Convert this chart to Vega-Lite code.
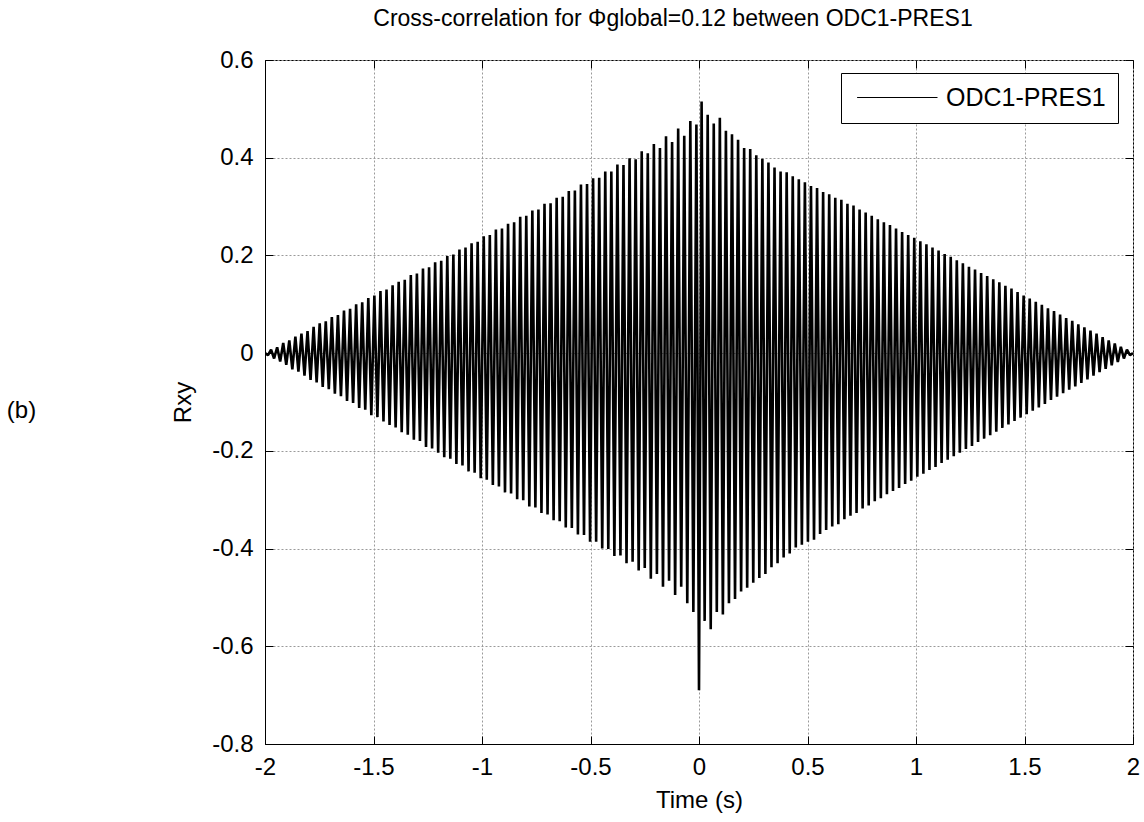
{
"$schema":"https://vega.github.io/schema/vega-lite/v6.json",
"width":868,"height":684,
"autosize":{"type":"none"},
"padding":{"left":265,"top":60,"right":11,"bottom":78},
"background":"white",
"title":{"text":"Cross-correlation for Φglobal=0.12 between ODC1-PRES1","font":"Liberation Sans","fontSize":23,"fontWeight":"normal","color":"black","anchor":"middle","frame":"group","baseline":"bottom","offset":14,"dy":20,"dx":-26},
"config":{
 "view":{"stroke":"black","strokeWidth":1},
 "axis":{"labelFont":"Liberation Sans","labelFontSize":24,"labelColor":"black","titleFont":"Liberation Sans","titleFontSize":24,"titleFontWeight":"normal","titleColor":"black","tickColor":"black","domainColor":"black","gridColor":"#9a9a9a","gridDash":[2,2],"gridWidth":1}
},
"datasets":{"s":[
{"t":-2,"r":0},{"t":-1.986,"r":-0.004},{"t":-1.972,"r":0.007},{"t":-1.958,"r":-0.011},{"t":-1.944,"r":0.012},{"t":-1.93,"r":-0.017},{"t":-1.916,"r":0.021},{"t":-1.902,"r":-0.024},{"t":-1.888,"r":0.026},{"t":-1.874,"r":-0.033},
{"t":-1.86,"r":0.034},{"t":-1.846,"r":-0.038},{"t":-1.832,"r":0.040},{"t":-1.818,"r":-0.046},{"t":-1.804,"r":0.045},{"t":-1.79,"r":-0.055},{"t":-1.776,"r":0.054},{"t":-1.762,"r":-0.060},{"t":-1.748,"r":0.061},{"t":-1.734,"r":-0.069},
{"t":-1.72,"r":0.065},{"t":-1.706,"r":-0.074},{"t":-1.692,"r":0.074},{"t":-1.678,"r":-0.083},{"t":-1.664,"r":0.078},{"t":-1.65,"r":-0.088},{"t":-1.636,"r":0.087},{"t":-1.622,"r":-0.098},{"t":-1.608,"r":0.091},{"t":-1.594,"r":-0.102},
{"t":-1.58,"r":0.100},{"t":-1.566,"r":-0.112},{"t":-1.552,"r":0.104},{"t":-1.538,"r":-0.116},{"t":-1.524,"r":0.113},{"t":-1.51,"r":-0.127},{"t":-1.496,"r":0.118},{"t":-1.482,"r":-0.131},{"t":-1.468,"r":0.127},{"t":-1.454,"r":-0.140},
{"t":-1.44,"r":0.130},{"t":-1.426,"r":-0.147},{"t":-1.412,"r":0.139},{"t":-1.398,"r":-0.152},{"t":-1.384,"r":0.146},{"t":-1.37,"r":-0.162},{"t":-1.356,"r":0.150},{"t":-1.342,"r":-0.167},{"t":-1.328,"r":0.160},{"t":-1.314,"r":-0.177},
{"t":-1.3,"r":0.163},{"t":-1.286,"r":-0.180},{"t":-1.272,"r":0.173},{"t":-1.258,"r":-0.192},{"t":-1.244,"r":0.176},{"t":-1.23,"r":-0.195},{"t":-1.216,"r":0.186},{"t":-1.202,"r":-0.204},{"t":-1.188,"r":0.189},{"t":-1.174,"r":-0.213},
{"t":-1.16,"r":0.199},{"t":-1.146,"r":-0.216},{"t":-1.132,"r":0.202},{"t":-1.118,"r":-0.227},{"t":-1.104,"r":0.212},{"t":-1.09,"r":-0.230},{"t":-1.076,"r":0.216},{"t":-1.062,"r":-0.242},{"t":-1.048,"r":0.225},{"t":-1.034,"r":-0.245},
{"t":-1.02,"r":0.228},{"t":-1.006,"r":-0.256},{"t":-0.992,"r":0.239},{"t":-0.978,"r":-0.259},{"t":-0.964,"r":0.242},{"t":-0.95,"r":-0.270},{"t":-0.936,"r":0.253},{"t":-0.922,"r":-0.273},{"t":-0.908,"r":0.255},{"t":-0.894,"r":-0.285},
{"t":-0.88,"r":0.265},{"t":-0.866,"r":-0.287},{"t":-0.852,"r":0.268},{"t":-0.838,"r":-0.299},{"t":-0.824,"r":0.279},{"t":-0.81,"r":-0.301},{"t":-0.796,"r":0.281},{"t":-0.782,"r":-0.314},{"t":-0.768,"r":0.292},{"t":-0.754,"r":-0.316},
{"t":-0.74,"r":0.294},{"t":-0.726,"r":-0.327},{"t":-0.712,"r":0.306},{"t":-0.698,"r":-0.330},{"t":-0.684,"r":0.307},{"t":-0.67,"r":-0.342},{"t":-0.656,"r":0.318},{"t":-0.642,"r":-0.344},{"t":-0.628,"r":0.320},{"t":-0.614,"r":-0.357},
{"t":-0.6,"r":0.332},{"t":-0.586,"r":-0.358},{"t":-0.572,"r":0.333},{"t":-0.558,"r":-0.371},{"t":-0.544,"r":0.345},{"t":-0.53,"r":-0.372},{"t":-0.516,"r":0.346},{"t":-0.502,"r":-0.386},{"t":-0.488,"r":0.358},{"t":-0.474,"r":-0.386},
{"t":-0.46,"r":0.359},{"t":-0.446,"r":-0.400},{"t":-0.432,"r":0.372},{"t":-0.418,"r":-0.401},{"t":-0.404,"r":0.372},{"t":-0.39,"r":-0.415},{"t":-0.376,"r":0.386},{"t":-0.362,"r":-0.414},{"t":-0.348,"r":0.385},{"t":-0.334,"r":-0.430},
{"t":-0.32,"r":0.399},{"t":-0.306,"r":-0.427},{"t":-0.292,"r":0.397},{"t":-0.278,"r":-0.445},{"t":-0.264,"r":0.413},{"t":-0.25,"r":-0.440},{"t":-0.236,"r":0.409},{"t":-0.222,"r":-0.462},{"t":-0.208,"r":0.428},{"t":-0.194,"r":-0.452},
{"t":-0.18,"r":0.420},{"t":-0.166,"r":-0.478},{"t":-0.152,"r":0.444},{"t":-0.138,"r":-0.466},{"t":-0.124,"r":0.432},{"t":-0.11,"r":-0.495},{"t":-0.096,"r":0.460},{"t":-0.082,"r":-0.478},{"t":-0.068,"r":0.445},{"t":-0.054,"r":-0.512},
{"t":-0.04,"r":0.475},{"t":-0.026,"r":-0.530},{"t":-0.012,"r":0.468},{"t":0,"r":-0.690},
{"t":0.012,"r":0.515},{"t":0.026,"r":-0.548},{"t":0.04,"r":0.488},{"t":0.054,"r":-0.565},{"t":0.068,"r":0.470},{"t":0.082,"r":-0.530},{"t":0.096,"r":0.482},{"t":0.11,"r":-0.535},{"t":0.124,"r":0.455},{"t":0.138,"r":-0.512},
{"t":0.152,"r":0.448},{"t":0.166,"r":-0.503},{"t":0.18,"r":0.437},{"t":0.194,"r":-0.488},{"t":0.208,"r":0.420},{"t":0.222,"r":-0.480},{"t":0.236,"r":0.418},{"t":0.25,"r":-0.470},{"t":0.264,"r":0.405},{"t":0.278,"r":-0.460},
{"t":0.292,"r":0.398},{"t":0.306,"r":-0.452},{"t":0.32,"r":0.390},{"t":0.334,"r":-0.438},{"t":0.348,"r":0.380},{"t":0.362,"r":-0.430},{"t":0.376,"r":0.372},{"t":0.39,"r":-0.418},{"t":0.404,"r":0.370},{"t":0.418,"r":-0.410},
{"t":0.432,"r":0.362},{"t":0.446,"r":-0.398},{"t":0.46,"r":0.356},{"t":0.474,"r":-0.392},{"t":0.488,"r":0.350},{"t":0.502,"r":-0.386},{"t":0.516,"r":0.342},{"t":0.53,"r":-0.382},{"t":0.544,"r":0.338},{"t":0.558,"r":-0.370},
{"t":0.572,"r":0.330},{"t":0.586,"r":-0.362},{"t":0.6,"r":0.325},{"t":0.614,"r":-0.355},{"t":0.628,"r":0.318},{"t":0.642,"r":-0.350},{"t":0.656,"r":0.314},{"t":0.67,"r":-0.340},{"t":0.684,"r":0.306},{"t":0.698,"r":-0.333},
{"t":0.712,"r":0.302},{"t":0.726,"r":-0.327},{"t":0.74,"r":0.294},{"t":0.754,"r":-0.318},{"t":0.768,"r":0.288},{"t":0.782,"r":-0.312},{"t":0.796,"r":0.281},{"t":0.81,"r":-0.303},{"t":0.824,"r":0.274},{"t":0.838,"r":-0.297},
{"t":0.852,"r":0.268},{"t":0.866,"r":-0.289},{"t":0.88,"r":0.262},{"t":0.894,"r":-0.282},{"t":0.908,"r":0.255},{"t":0.922,"r":-0.276},{"t":0.936,"r":0.248},{"t":0.95,"r":-0.268},{"t":0.964,"r":0.242},{"t":0.978,"r":-0.261},
{"t":0.992,"r":0.236},{"t":1.006,"r":-0.253},{"t":1.02,"r":0.229},{"t":1.034,"r":-0.247},{"t":1.048,"r":0.223},{"t":1.062,"r":-0.239},{"t":1.076,"r":0.216},{"t":1.09,"r":-0.233},{"t":1.104,"r":0.210},{"t":1.118,"r":-0.225},
{"t":1.132,"r":0.203},{"t":1.146,"r":-0.218},{"t":1.16,"r":0.197},{"t":1.174,"r":-0.211},{"t":1.188,"r":0.190},{"t":1.202,"r":-0.204},{"t":1.216,"r":0.184},{"t":1.23,"r":-0.196},{"t":1.244,"r":0.177},{"t":1.258,"r":-0.190},
{"t":1.272,"r":0.171},{"t":1.286,"r":-0.182},{"t":1.3,"r":0.164},{"t":1.314,"r":-0.175},{"t":1.328,"r":0.158},{"t":1.342,"r":-0.168},{"t":1.356,"r":0.151},{"t":1.37,"r":-0.161},{"t":1.384,"r":0.145},{"t":1.398,"r":-0.153},
{"t":1.412,"r":0.138},{"t":1.426,"r":-0.146},{"t":1.44,"r":0.132},{"t":1.454,"r":-0.139},{"t":1.468,"r":0.125},{"t":1.482,"r":-0.132},{"t":1.496,"r":0.118},{"t":1.51,"r":-0.125},{"t":1.524,"r":0.112},{"t":1.538,"r":-0.118},
{"t":1.552,"r":0.105},{"t":1.566,"r":-0.111},{"t":1.58,"r":0.099},{"t":1.594,"r":-0.104},{"t":1.608,"r":0.092},{"t":1.622,"r":-0.096},{"t":1.636,"r":0.086},{"t":1.65,"r":-0.089},{"t":1.664,"r":0.079},{"t":1.678,"r":-0.082},
{"t":1.692,"r":0.072},{"t":1.706,"r":-0.075},{"t":1.72,"r":0.066},{"t":1.734,"r":-0.068},{"t":1.748,"r":0.059},{"t":1.762,"r":-0.061},{"t":1.776,"r":0.053},{"t":1.79,"r":-0.054},{"t":1.804,"r":0.046},{"t":1.818,"r":-0.046},
{"t":1.832,"r":0.040},{"t":1.846,"r":-0.039},{"t":1.86,"r":0.033},{"t":1.874,"r":-0.032},{"t":1.888,"r":0.026},{"t":1.902,"r":-0.025},{"t":1.916,"r":0.020},{"t":1.93,"r":-0.018},{"t":1.944,"r":0.013},{"t":1.958,"r":-0.011},
{"t":1.972,"r":0.007},{"t":1.986,"r":-0.004},{"t":2,"r":0}
]},
"data":{"name":"s"},
"resolve":{"axis":{"x":"independent","y":"independent"}},
"layer":[
 {"mark":{"type":"line","strokeWidth":2.6,"strokeJoin":"bevel","clip":true},
  "encoding":{
   "x":{"field":"t","type":"quantitative","scale":{"domain":[-2,2],"nice":false,"zero":false},
        "axis":{"orient":"bottom","title":"Time (s)","values":[-2,-1.5,-1,-0.5,0,0.5,1,1.5,2],"labelExpr":"replace(format(datum.value,'~g'),'−','-')","tickSize":-8,"labelPadding":19,"labelFlush":false,"domain":true,"grid":true,"titleY":56,"titleBaseline":"middle"}},
   "y":{"field":"r","type":"quantitative","scale":{"domain":[-0.8,0.6],"nice":false,"zero":false},
        "axis":{"orient":"left","title":"Rxy","values":[-0.8,-0.6,-0.4,-0.2,0,0.2,0.4,0.6],"labelExpr":"replace(format(datum.value,'~g'),'−','-')","tickSize":-8,"labelPadding":20,"labelFlush":false,"domain":true,"grid":true,"titleX":-70,"titleBaseline":"bottom"}},
   "color":{"datum":"ODC1-PRES1","type":"nominal","scale":{"range":["black"]},
        "legend":{"title":null,"orient":"none","legendX":576,"legendY":13,"strokeColor":"black","fillColor":"white","padding":12,"labelFontSize":25,"labelFont":"Liberation Sans","labelColor":"black","symbolType":"M-0.7,0H6","symbolSize":576,"symbolStrokeWidth":1,"labelOffset":68}}
  }},
 {"mark":{"type":"line","opacity":0},
  "encoding":{
   "x":{"field":"t","type":"quantitative","axis":{"orient":"top","title":null,"labels":false,"grid":false,"domain":false,"values":[-2,-1.5,-1,-0.5,0,0.5,1,1.5,2],"tickSize":-8}},
   "y":{"field":"r","type":"quantitative","axis":{"orient":"right","title":null,"labels":false,"grid":false,"domain":false,"values":[-0.8,-0.6,-0.4,-0.2,0,0.2,0.4,0.6],"tickSize":-8}}
  }},
 {"mark":{"type":"line","opacity":0},
  "encoding":{
   "x":{"field":"t","type":"quantitative","axis":null},
   "y":{"field":"r","type":"quantitative","axis":{"orient":"left","title":"(b)","labels":false,"ticks":false,"grid":false,"domain":false,"titleAngle":0,"titleX":-244,"titleY":350,"titleAlign":"center","titleBaseline":"middle"}}
  }}
]
}
